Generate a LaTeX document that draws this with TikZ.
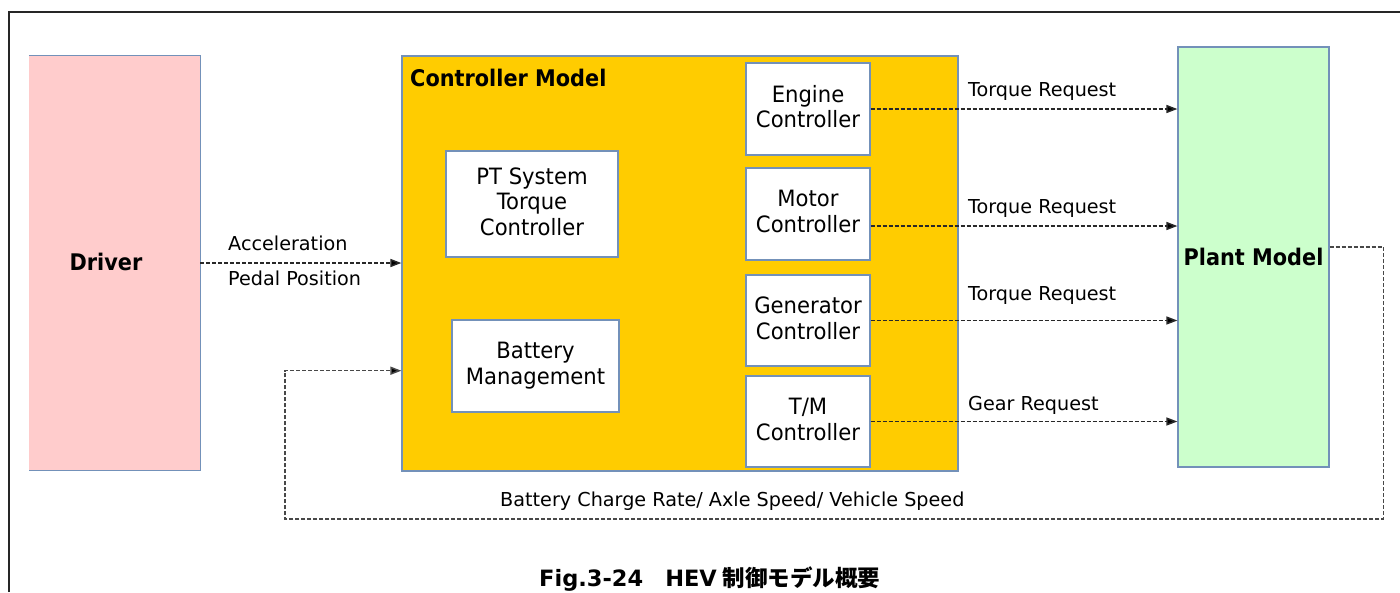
\documentclass[tikz,border=0pt]{standalone}
\usepackage{fontspec}
\setmainfont{DejaVu Sans}
\newfontfamily\boxfont{DejaVu Sans}[FakeStretch=0.94]
\newfontfamily\bfA{DejaVu Sans}[FakeStretch=0.91]
\newfontfamily\cjk{Noto Sans CJK JP}
\usetikzlibrary{arrows.meta}
\definecolor{drvpink}{RGB}{255,204,204}
\definecolor{ctlyel}{RGB}{255,204,0}
\definecolor{plgreen}{RGB}{204,255,204}
\definecolor{edgeblue}{RGB}{115,145,185}
\definecolor{sig}{RGB}{40,40,40}
\begin{document}
\begin{tikzpicture}[x=1pt,y=-1pt,
  blk/.style={draw=edgeblue, line width=1.2pt, inner sep=0pt, align=center},
  sub/.style={blk, fill=white, minimum width=124pt, minimum height=92pt, text depth=5pt,
    font=\boxfont\fontsize{22.5}{25.7}\selectfont},
  sigline/.style={draw=sig, line width=1.5pt, dash pattern=on 4pt off 2pt,
    -{Triangle[length=11pt,width=8pt,fill=black]}},
  lbl/.style={anchor=base west, inner sep=0pt, font=\fontsize{19.2}{22}\selectfont},
  bigbold/.style={font=\bfA\bfseries\fontsize{22.9}{26}\selectfont}
  ]
\useasboundingbox (0,0) rectangle (1400,592);
\draw[line width=2pt, black!85] (9,592) -- (9,12) -- (1400,12);

% Driver
\node[fill=drvpink, minimum width=171pt, minimum height=414pt, inner sep=0pt] (drv) at (114.5,263) {};
\draw[edgeblue, line width=1.2pt] (drv.north west) -- (drv.north east) -- (drv.south east) -- (drv.south west);
\node[inner sep=0pt, bigbold] (drvT) at (106,262) {Driver};

% Controller model
\node[blk, fill=ctlyel, minimum width=556pt, minimum height=415pt] (ctl) at (680,263.5) {};
\node[anchor=base west, inner sep=0pt, bigbold] (ctlT) at (410,86.7) {Controller Model};

\node[sub] (eng) at (808,109) {Engine\\Controller};
\node[sub] (mot) at (808,214) {Motor\\Controller};
\node[sub, minimum height=91pt] (gen) at (808,320.5) {Generator\\Controller};
\node[sub, minimum height=91pt] (tm) at (808,421.5) {T/M\\Controller};
\node[sub, minimum width=172pt, minimum height=106pt] (pt) at (532,204) {PT System\\Torque\\Controller};
\node[sub, minimum width=167pt, minimum height=92pt] (bat) at (535.5,366) {Battery\\Management};

% Plant
\node[blk, fill=plgreen, minimum width=151pt, minimum height=420pt, bigbold] (plant) at (1253.5,257) {Plant Model};

% Signals
\draw[sigline] (drv.east) -- (drv.east -| ctl.west);
\draw[sigline] (eng.east) -- (eng.east -| plant.west);
\draw[sigline] ([yshift=-12pt]mot.east) -- ([yshift=-12pt]mot.east -| plant.west);
\draw[sigline] (gen.east) -- (gen.east -| plant.west);
\draw[sigline] (tm.east) -- (tm.east -| plant.west);

\coordinate (fbR) at (1383.5,519);
\coordinate (fbL) at (285,519);
\draw[sigline, draw=sig!85] ([yshift=10pt]plant.east) -| (fbR) -- (fbL) |- ([yshift=-107.2pt]ctl.west);

% Labels
\node[lbl] (la1) at (228,250) {Acceleration};
\node[lbl] (la2) at (228,285.7) {Pedal Position};
\node[lbl] (lt1) at (968,96.7) {Torque Request};
\node[lbl] (lt2) at (968,213.3) {Torque Request};
\node[lbl] (lt3) at (968,300) {Torque Request};
\node[lbl] (lt4) at (968,410) {Gear Request};
\node[lbl] (lfb) at (500,506.7) {Battery Charge Rate/ Axle Speed/ Vehicle Speed};

% Caption
\node[anchor=base west, inner sep=0pt] (cap) at (539,586) {\bfseries\fontsize{22.5}{26}\selectfont Fig.3-24\hspace{22pt}HEV\hspace{6pt}{\cjk\bfseries\fontsize{22.5}{26}\selectfont 制御モデル概要}};
\end{tikzpicture}
\end{document}
